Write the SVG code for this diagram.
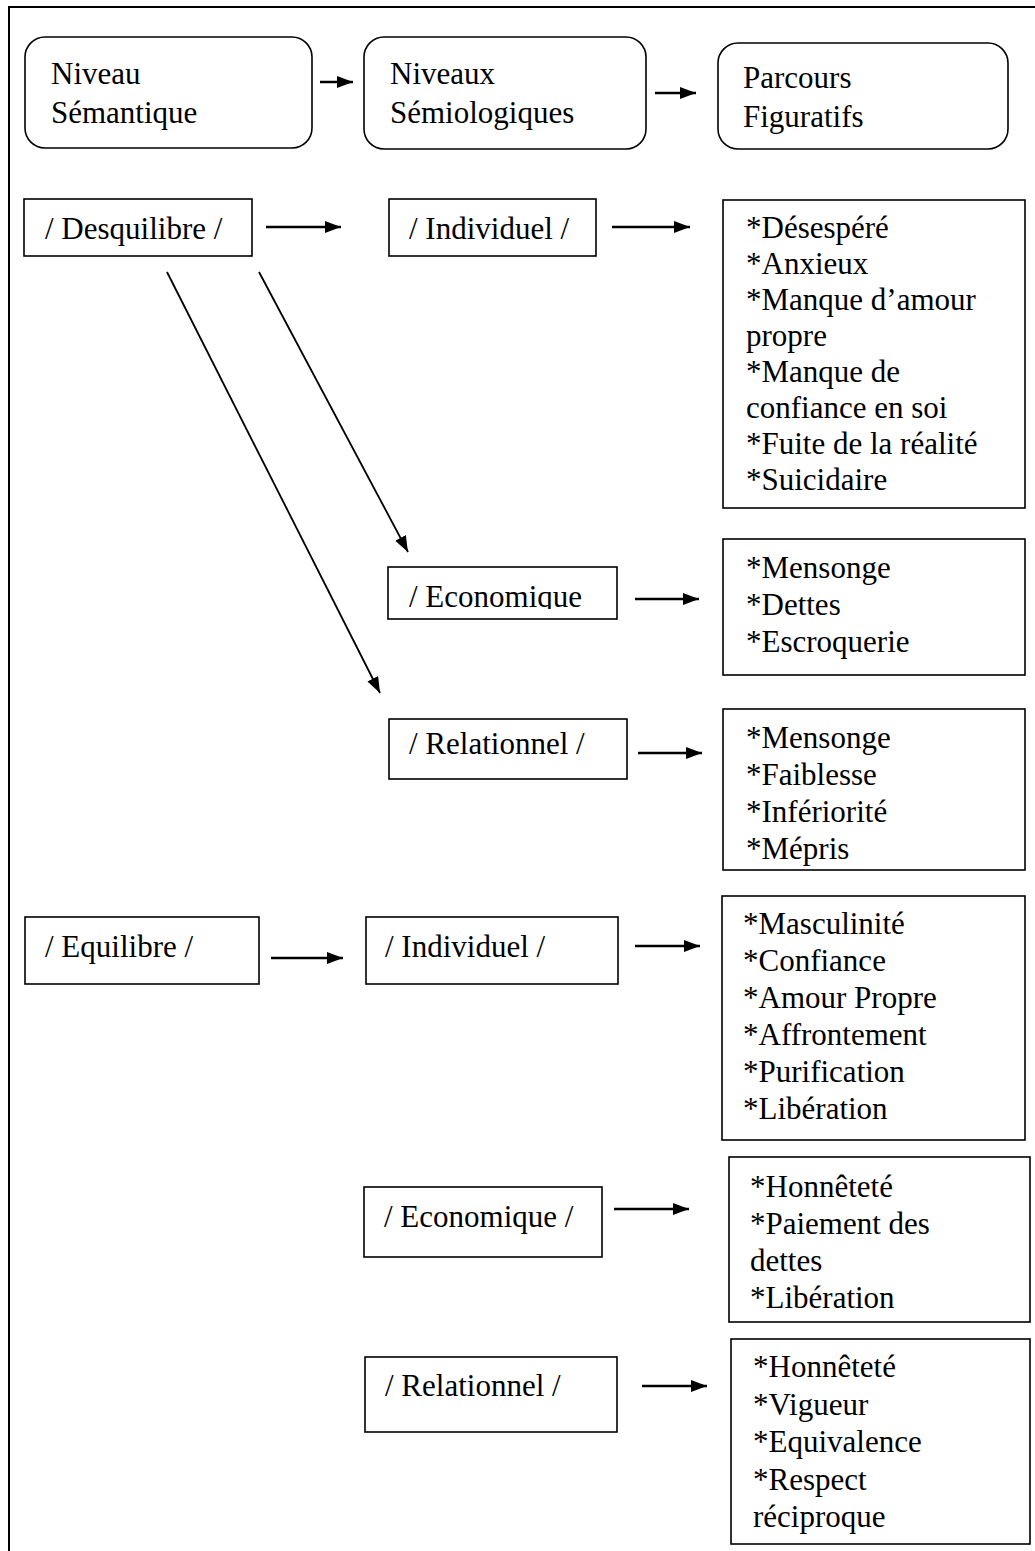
<svg xmlns="http://www.w3.org/2000/svg" width="1035" height="1551" viewBox="0 0 1035 1551">
  <style>
    .frame { fill: none; stroke: #000; stroke-width: 2; }
    .box { fill: #fff; stroke: #000; stroke-width: 1.6; }
    .lbl { font-family: "Liberation Serif", "Times New Roman", serif; font-size: 31px; fill: #000; }
    .conn { stroke: #000; stroke-width: 2.4; fill: none; marker-end: url(#head); }
    .diag { stroke: #000; stroke-width: 1.8; fill: none; marker-end: url(#head); }
  </style>
  <defs>
    <marker id="head" markerUnits="userSpaceOnUse" markerWidth="18" markerHeight="14" refX="16" refY="6" orient="auto">
      <path d="M0,0 L16,6 L0,12 z" fill="#000"/>
    </marker>
    <clipPath id="cutEco">
      <rect x="388" y="567" width="230" height="42"/>
    </clipPath>
  </defs>

  <rect width="1035" height="1551" fill="#fff"/>

  <!-- page frame: top and left rules -->
  <path class="frame" d="M9,1551 V7 H1035"/>

  <!-- header row -->
  <g id="niveau-semantique">
    <rect class="box" x="25" y="37" width="287" height="111" rx="20"/>
    <text class="lbl" x="51" y="84">Niveau</text>
    <text class="lbl" x="51" y="123">Sémantique</text>
  </g>
  <g id="niveaux-semiologiques">
    <rect class="box" x="364" y="37" width="282" height="112" rx="20"/>
    <text class="lbl" x="390" y="84">Niveaux</text>
    <text class="lbl" x="390" y="123">Sémiologiques</text>
  </g>
  <g id="parcours-figuratifs">
    <rect class="box" x="718" y="43" width="290" height="106" rx="20"/>
    <text class="lbl" x="743" y="88">Parcours</text>
    <text class="lbl" x="743" y="127">Figuratifs</text>
  </g>

  <!-- desequilibre branch -->
  <g id="desquilibre">
    <rect class="box" x="24" y="199" width="228" height="57"/>
    <text class="lbl" x="45" y="239">/ Desquilibre /</text>
  </g>
  <g id="d-individuel">
    <rect class="box" x="389" y="199" width="207" height="57"/>
    <text class="lbl" x="409" y="239">/ Individuel /</text>
  </g>
  <g id="d-individuel-figures">
    <rect class="box" x="723" y="200" width="302" height="308"/>
    <text class="lbl" x="746" y="238">*Désespéré</text>
    <text class="lbl" x="746" y="274">*Anxieux</text>
    <text class="lbl" x="746" y="310">*Manque d’amour</text>
    <text class="lbl" x="746" y="346">propre</text>
    <text class="lbl" x="746" y="382">*Manque de</text>
    <text class="lbl" x="746" y="418">confiance en soi</text>
    <text class="lbl" x="746" y="454">*Fuite de la réalité</text>
    <text class="lbl" x="746" y="490">*Suicidaire</text>
  </g>
  <g id="d-economique">
    <rect class="box" x="388" y="567" width="229" height="52"/>
    <text class="lbl" x="409" y="607" clip-path="url(#cutEco)">/ Economique</text>
  </g>
  <g id="d-economique-figures">
    <rect class="box" x="723" y="539" width="302" height="136"/>
    <text class="lbl" x="746" y="578">*Mensonge</text>
    <text class="lbl" x="746" y="615">*Dettes</text>
    <text class="lbl" x="746" y="652">*Escroquerie</text>
  </g>
  <g id="d-relationnel">
    <rect class="box" x="389" y="719" width="238" height="60"/>
    <text class="lbl" x="409" y="754">/ Relationnel /</text>
  </g>
  <g id="d-relationnel-figures">
    <rect class="box" x="723" y="709" width="302" height="161"/>
    <text class="lbl" x="746" y="748">*Mensonge</text>
    <text class="lbl" x="746" y="785">*Faiblesse</text>
    <text class="lbl" x="746" y="822">*Infériorité</text>
    <text class="lbl" x="746" y="859">*Mépris</text>
  </g>

  <!-- equilibre branch -->
  <g id="equilibre">
    <rect class="box" x="25" y="917" width="234" height="67"/>
    <text class="lbl" x="45" y="957">/ Equilibre /</text>
  </g>
  <g id="e-individuel">
    <rect class="box" x="366" y="917" width="252" height="67"/>
    <text class="lbl" x="385" y="957">/ Individuel /</text>
  </g>
  <g id="e-individuel-figures">
    <rect class="box" x="722" y="896" width="303" height="244"/>
    <text class="lbl" x="743" y="934">*Masculinité</text>
    <text class="lbl" x="743" y="971">*Confiance</text>
    <text class="lbl" x="743" y="1008">*Amour Propre</text>
    <text class="lbl" x="743" y="1045">*Affrontement</text>
    <text class="lbl" x="743" y="1082">*Purification</text>
    <text class="lbl" x="743" y="1119">*Libération</text>
  </g>
  <g id="e-economique">
    <rect class="box" x="364" y="1187" width="238" height="70"/>
    <text class="lbl" x="384" y="1227">/ Economique /</text>
  </g>
  <g id="e-economique-figures">
    <rect class="box" x="729" y="1157" width="301" height="165"/>
    <text class="lbl" x="750" y="1197">*Honnêteté</text>
    <text class="lbl" x="750" y="1234">*Paiement des</text>
    <text class="lbl" x="750" y="1271">dettes</text>
    <text class="lbl" x="750" y="1308">*Libération</text>
  </g>
  <g id="e-relationnel">
    <rect class="box" x="365" y="1357" width="252" height="75"/>
    <text class="lbl" x="385" y="1396">/ Relationnel /</text>
  </g>
  <g id="e-relationnel-figures">
    <rect class="box" x="731" y="1339" width="299" height="205"/>
    <text class="lbl" x="753" y="1377">*Honnêteté</text>
    <text class="lbl" x="753" y="1415">*Vigueur</text>
    <text class="lbl" x="753" y="1452">*Equivalence</text>
    <text class="lbl" x="753" y="1490">*Respect</text>
    <text class="lbl" x="753" y="1527">réciproque</text>
  </g>

  <!-- connectors -->
  <g id="connectors">
    <line class="conn" x1="320" y1="82" x2="353" y2="82"/>
    <line class="conn" x1="655" y1="93" x2="696" y2="93"/>
    <line class="conn" x1="266" y1="227" x2="341" y2="227"/>
    <line class="conn" x1="612" y1="227" x2="690" y2="227"/>
    <line class="diag" x1="259" y1="272" x2="408" y2="552"/>
    <line class="diag" x1="167" y1="272" x2="380" y2="693"/>
    <line class="conn" x1="635" y1="599" x2="699" y2="599"/>
    <line class="conn" x1="638" y1="753" x2="702" y2="753"/>
    <line class="conn" x1="271" y1="958" x2="343" y2="958"/>
    <line class="conn" x1="635" y1="946" x2="700" y2="946"/>
    <line class="conn" x1="614" y1="1209" x2="689" y2="1209"/>
    <line class="conn" x1="642" y1="1386" x2="707" y2="1386"/>
  </g>
</svg>
